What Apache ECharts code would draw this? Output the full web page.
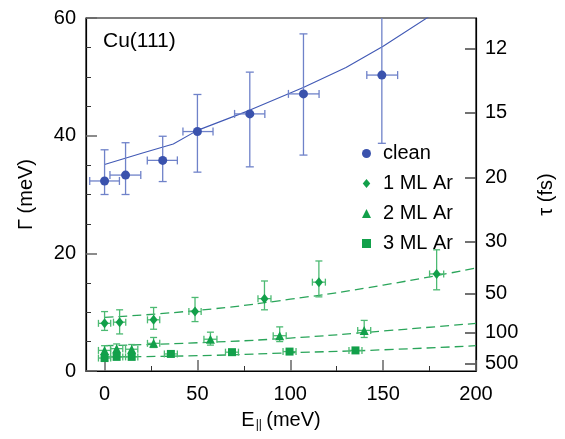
<!DOCTYPE html>
<html>
<head>
<meta charset="utf-8">
<script src="https://cdn.jsdelivr.net/npm/echarts@6/dist/echarts.min.js"></script>
<style>
html, body { margin: 0; padding: 0; background: #fff; }
#chart { width: 565px; height: 439px; }
</style>
</head>
<body>
<div id="chart"></div>
<script>
// hbar in meV*fs, tau = hbar / Gamma
var HBAR = 658.2;

// clean Cu(111)
var cleanE = [0, 11.3, 31.3, 50, 78.2, 107.1, 149.3];
var cleanG = [32.3, 33.3, 35.8, 40.7, 43.7, 47.1, 50.3];
var cleanGlo = [30.0, 30.0, 32.2, 33.8, 34.7, 36.7, 38.7];
var cleanGhi = [37.6, 38.8, 39.9, 47.0, 50.8, 57.3, 61.9];
var cleanElo = [-8, 2.9, 23, 42.2, 70, 99, 141.2];
var cleanEhi = [8, 19.5, 39.2, 58.4, 86.3, 115.5, 157.8];

// 1 ML Ar
var ar1E = [0, 8.1, 26.4, 48.7, 86.1, 115.4, 178.8];
var ar1G = [8.1, 8.3, 8.7, 10.1, 12.3, 15.1, 16.5];
var ar1Glo = [6.9, 6.3, 7.1, 8.4, 10.4, 12.6, 13.8];
var ar1Ghi = [10.1, 10.4, 10.8, 12.5, 15.3, 18.7, 20.6];
var ar1Eerr = [3.3, 3.3, 3.3, 3.3, 3.5, 3.5, 3.8];

// 2 ML Ar
var ar2E = [0, 6.5, 14.6, 26.4, 57, 94.3, 139.8];
var ar2G = [3.5, 3.8, 3.7, 4.7, 5.4, 6.0, 6.9];
var ar2Glo = [2.9, 3.1, 3.0, 4.0, 4.4, 5.0, 5.7];
var ar2Ghi = [4.3, 4.6, 4.5, 5.7, 6.6, 7.5, 8.6];
var ar2Eerr = [3.3, 3.3, 3.3, 3.3, 3.5, 3.5, 3.5];

// 3 ML Ar
var ar3E = [0, 6.5, 14.6, 35.7, 68.6, 99.6, 135.1];
var ar3G = [2.2, 2.4, 2.4, 2.9, 3.2, 3.3, 3.5];
var ar3Glo = [1.8, 2.0, 2.0, 2.5, 2.8, 2.9, 3.1];
var ar3Ghi = [2.6, 2.8, 2.8, 3.3, 3.6, 3.7, 3.9];
var ar3Eerr = [3.3, 3.3, 3.3, 3.5, 3.5, 3.5, 3.5];

// fit curves
var cleanFitE = [0, 20, 37, 50, 78, 107, 130, 150, 175];
var cleanFitG = [35.1, 37.0, 38.6, 40.9, 44.3, 48.2, 51.6, 55.2, 60.3];
var arFitE = [0, 50, 100, 150, 200];
var ar1FitG = [9.1, 10.3, 12.2, 14.6, 17.5];
var ar2FitG = [4.3, 4.8, 5.6, 6.8, 8.1];
var ar3FitG = [2.4, 2.6, 3.1, 3.6, 4.3];

// axis ticks
var xTicks = [0, 50, 100, 150, 200];
var xMinorTicks = [25, 75, 125, 175];
var tauTicks = [12, 15, 20, 30, 50, 100, 500];

var FONT = 'Liberation Sans, Arial, Helvetica, sans-serif';
var BLUE = '#3a52ad';
var BLUE_ERR = '#6f82c9';
var GREEN = '#12a04a';
var GREEN_ERR = '#4cba72';

var pairs = function (xs, ys) {
    return xs.map(function (x, i) { return [x, ys[i]]; });
};

var errRows = function (xs, ys, xlo, xhi, ylo, yhi) {
    return xs.map(function (x, i) { return [x, ys[i], xlo[i], xhi[i], ylo[i], yhi[i]]; });
};

var errRowsSym = function (xs, ys, xerr, ylo, yhi) {
    return xs.map(function (x, i) { return [x, ys[i], x - xerr[i], x + xerr[i], ylo[i], yhi[i]]; });
};

var errorBars = function (color, cap) {
    return function (params, api) {
        var x = api.value(0), y = api.value(1);
        var c = api.coord([x, y]);
        var lo = api.coord([x, api.value(4)]);
        var hi = api.coord([x, api.value(5)]);
        var l = api.coord([api.value(2), y]);
        var r = api.coord([api.value(3), y]);
        var st = { stroke: color, lineWidth: 1.3 };
        var ln = function (x1, y1, x2, y2) {
            return { type: 'line', shape: { x1: x1, y1: y1, x2: x2, y2: y2 }, style: st };
        };
        return {
            type: 'group',
            children: [
                ln(c[0], lo[1], c[0], hi[1]),
                ln(c[0] - cap, lo[1], c[0] + cap, lo[1]),
                ln(c[0] - cap, hi[1], c[0] + cap, hi[1]),
                ln(l[0], c[1], r[0], c[1]),
                ln(l[0], c[1] - cap, l[0], c[1] + cap),
                ln(r[0], c[1] - cap, r[0], c[1] + cap)
            ]
        };
    };
};

var chart = echarts.init(document.getElementById('chart'));

var option = {
    animation: false,
    textStyle: { fontFamily: FONT },
    title: {
        text: 'Cu(111)',
        left: 103,
        top: 31,
        padding: 0,
        textStyle: { fontFamily: FONT, fontSize: 21, fontWeight: 'normal', color: '#000' }
    },
    legend: {
        orient: 'vertical',
        left: 357,
        top: 138,
        itemWidth: 9,
        itemHeight: 9,
        itemGap: 9,
        textStyle: { fontFamily: FONT, fontSize: 20, color: '#000', lineHeight: 21, padding: [0, 0, 0, 7] },
        data: [
            { name: 'clean', icon: 'circle' },
            { name: '1 ML Ar', icon: 'path://M5,0L10,6L5,12L0,6Z' },
            { name: '2 ML Ar', icon: 'triangle' },
            { name: '3 ML Ar', icon: 'path://M1,1L9,1L9,9L1,9Z' }
        ]
    },
    grid: {
        left: 86, right: 89, top: 18, bottom: 68,
        show: true, borderColor: '#000', borderWidth: 1.2
    },
    xAxis: [{
        type: 'value',
        min: -10, max: 200,
        name: '{e|E}{s|||} {e|(meV)}',
        nameLocation: 'middle',
        nameGap: 38,
        nameTextStyle: {
            rich: {
                e: { fontFamily: FONT, fontSize: 20, color: '#000', lineHeight: 22 },
                s: { fontFamily: FONT, fontSize: 12, color: '#000', lineHeight: 12, padding: [10, 1, 0, 1], verticalAlign: 'bottom' }
            }
        },
        axisLine: { show: true, onZero: false, lineStyle: { color: '#000', width: 1.2 } },
        axisTick: { show: true, inside: true, length: 11, customValues: xTicks, lineStyle: { color: '#666', width: 1.5 } },
        axisLabel: { customValues: xTicks, fontSize: 20, color: '#000', margin: 13, fontFamily: FONT },
        splitLine: { show: false }
    }, {
        type: 'value',
        min: -10, max: 200,
        position: 'bottom',
        axisLine: { show: false },
        axisTick: { show: true, inside: true, length: 5, customValues: xMinorTicks, lineStyle: { color: '#333', width: 1 } },
        axisLabel: { show: false },
        splitLine: { show: false }
    }],
    yAxis: [{
        type: 'value',
        min: 0, max: 60, interval: 20,
        name: 'Γ (meV)',
        nameLocation: 'middle',
        nameRotate: 90,
        nameGap: 50,
        nameTextStyle: { fontFamily: FONT, fontSize: 20, color: '#000' },
        axisLine: { show: true, onZero: false, lineStyle: { color: '#000', width: 1.2 } },
        axisTick: { show: true, inside: true, length: 11, lineStyle: { color: '#666', width: 1.5 } },
        minorTick: { show: true, splitNumber: 4, length: 5, lineStyle: { color: '#333', width: 1 } },
        axisLabel: { fontSize: 20, color: '#000', margin: 10, fontFamily: FONT },
        splitLine: { show: false }
    }, {
        type: 'value',
        min: 0, max: 60,
        position: 'right',
        name: 'τ (fs)',
        nameLocation: 'middle',
        nameRotate: 90,
        nameGap: 60,
        nameTextStyle: { fontFamily: FONT, fontSize: 20, color: '#000' },
        axisLine: { show: true, onZero: false, lineStyle: { color: '#000', width: 1.2 } },
        axisTick: {
            show: true, inside: true, length: 11,
            customValues: tauTicks.map(function (t) { return HBAR / t; }),
            lineStyle: { color: '#444', width: 1.5 }
        },
        axisLabel: {
            customValues: tauTicks.map(function (t) { return HBAR / t; }),
            formatter: function (v) { return String(Math.round(HBAR / v)); },
            fontSize: 20, color: '#000', margin: 9, fontFamily: FONT
        },
        splitLine: { show: false }
    }],
    series: [
        // fits
        {
            type: 'line', data: pairs(cleanFitE, cleanFitG), showSymbol: false, silent: true,
            lineStyle: { color: '#4159b5', width: 1.1 }, clip: true, z: 1
        },
        {
            type: 'line', data: pairs(arFitE, ar1FitG), showSymbol: false, smooth: true, silent: true,
            lineStyle: { color: '#2aa55a', width: 1.3, type: [9, 5] }, clip: true, z: 1
        },
        {
            type: 'line', data: pairs(arFitE, ar2FitG), showSymbol: false, smooth: true, silent: true,
            lineStyle: { color: '#2aa55a', width: 1.3, type: [9, 5] }, clip: true, z: 1
        },
        {
            type: 'line', data: pairs(arFitE, ar3FitG), showSymbol: false, smooth: true, silent: true,
            lineStyle: { color: '#2aa55a', width: 1.3, type: [9, 5] }, clip: true, z: 1
        },
        // error bars
        {
            type: 'custom', clip: true, z: 2, silent: true,
            renderItem: errorBars(BLUE_ERR, 4),
            data: errRows(cleanE, cleanG, cleanElo, cleanEhi, cleanGlo, cleanGhi)
        },
        {
            type: 'custom', clip: true, z: 2, silent: true,
            renderItem: errorBars(GREEN_ERR, 3.5),
            data: errRowsSym(ar1E, ar1G, ar1Eerr, ar1Glo, ar1Ghi)
        },
        {
            type: 'custom', clip: true, z: 2, silent: true,
            renderItem: errorBars(GREEN_ERR, 3.5),
            data: errRowsSym(ar2E, ar2G, ar2Eerr, ar2Glo, ar2Ghi)
        },
        {
            type: 'custom', clip: true, z: 2, silent: true,
            renderItem: errorBars(GREEN_ERR, 3.5),
            data: errRowsSym(ar3E, ar3G, ar3Eerr, ar3Glo, ar3Ghi)
        },
        // points
        {
            name: 'clean', type: 'scatter', symbol: 'circle', symbolSize: 9, z: 3,
            itemStyle: { color: BLUE, opacity: 1 }, data: pairs(cleanE, cleanG)
        },
        {
            name: '1 ML Ar', type: 'scatter', symbol: 'diamond', symbolSize: [8, 10], z: 3,
            itemStyle: { color: GREEN, opacity: 1 }, data: pairs(ar1E, ar1G)
        },
        {
            name: '2 ML Ar', type: 'scatter', symbol: 'triangle', symbolSize: 9, z: 3,
            itemStyle: { color: GREEN, opacity: 1 }, data: pairs(ar2E, ar2G)
        },
        {
            name: '3 ML Ar', type: 'scatter', symbol: 'rect', symbolSize: 8, z: 3,
            itemStyle: { color: GREEN, opacity: 1 }, data: pairs(ar3E, ar3G)
        }
    ]
};

chart.setOption(option);
</script>
</body>
</html>
